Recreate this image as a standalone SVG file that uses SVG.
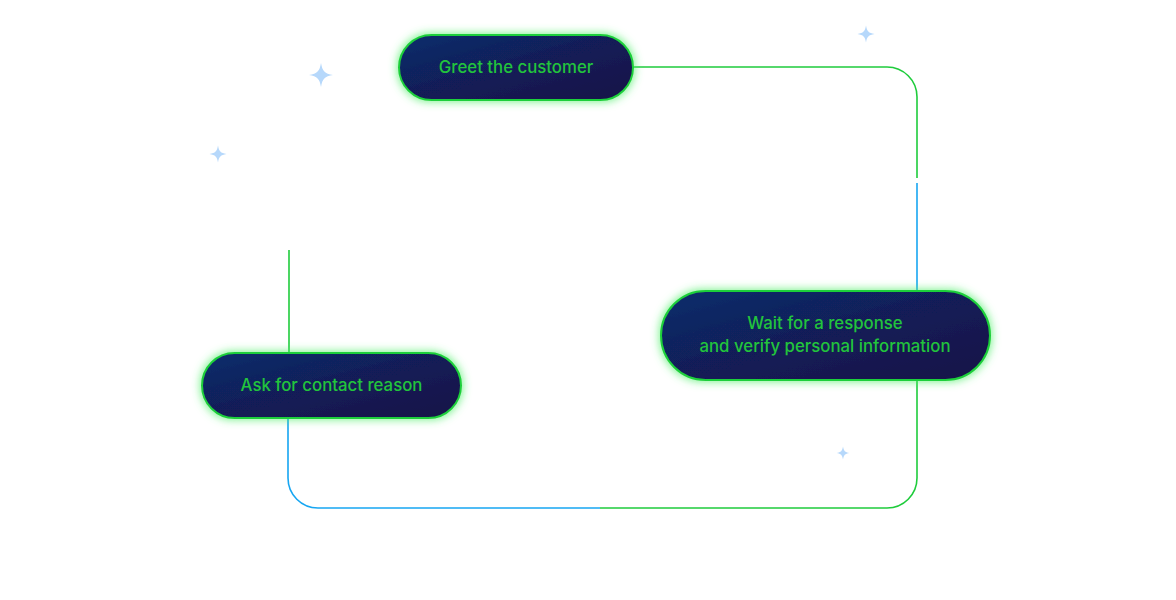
<svg xmlns="http://www.w3.org/2000/svg" width="1176" height="600" viewBox="0 0 1176 600">
<defs>
<linearGradient id="pill" x1="0" y1="0" x2="1" y2="1">
<stop offset="0" stop-color="#102e6c"/>
<stop offset="0.55" stop-color="#121b55"/>
<stop offset="1" stop-color="#141548"/>
</linearGradient>
<filter id="g2" x="-20%" y="-50%" width="140%" height="200%">
<feMorphology in="SourceAlpha" operator="dilate" radius="1" result="d"/>
<feGaussianBlur in="d" stdDeviation="4" result="b"/>
<feFlood flood-color="#44ee60" flood-opacity="0.7"/>
<feComposite operator="in" in2="b" result="gl"/>
<feMerge><feMergeNode in="gl"/><feMergeNode in="SourceGraphic"/></feMerge>
</filter>
<path id="spark" d="M0,-1 C0.12,-0.3 0.3,-0.12 1,0 C0.3,0.12 0.12,0.3 0,1 C-0.12,0.3 -0.3,0.12 -1,0 C-0.3,-0.12 -0.12,-0.3 0,-1 Z"/>
</defs>
<style>
.pill{fill:url(#pill);stroke:#1fcf3a;stroke-width:2;filter:url(#g2)}
.lbl{font-family:Inter,"Liberation Sans",sans-serif;font-size:16.8px;fill:#22c43c;text-anchor:middle;font-weight:500}
.cg{fill:none;stroke:#1fcc3c;stroke-width:1.6}
.cb{fill:none;stroke:#17a6f2;stroke-width:1.6}
.sp{fill:#b6d8fb}
</style>
<rect width="1176" height="600" fill="#ffffff"/>
<g id="sparkles">
<use href="#spark" class="sp" transform="translate(321,75) scale(12)"/>
<use href="#spark" class="sp" transform="translate(218,154) scale(8.5)"/>
<use href="#spark" class="sp" transform="translate(866,34) scale(8.5)"/>
<use href="#spark" class="sp" transform="translate(843,453) scale(6.5)"/>
</g>
<g id="connectors">
<path class="cg" d="M633,67 H887 A30,30 0 0 1 917,97 V178"/>
<path class="cb" d="M917,183 V291"/>
<path class="cg" d="M917,380 V478 A30,30 0 0 1 887,508 H600"/>
<path class="cb" d="M600,508 H318 A30,30 0 0 1 288,478 V418"/>
<path class="cg" d="M289,250 V353" stroke="#3ac657"/>
</g>
<g id="node-greet">
<rect class="pill" x="399" y="35" width="234" height="65" rx="32.5"/>
<text class="lbl" x="516" y="73">Greet the customer</text>
</g>
<g id="node-wait">
<rect class="pill" x="661" y="291" width="329" height="89" rx="44.5"/>
<text class="lbl" x="825" y="329">Wait for a response</text>
<text class="lbl" x="825" y="352">and verify personal information</text>
</g>
<g id="node-ask">
<rect class="pill" x="202" y="353" width="259" height="65" rx="32.5"/>
<text class="lbl" x="331.5" y="391">Ask for contact reason</text>
</g>
</svg>
